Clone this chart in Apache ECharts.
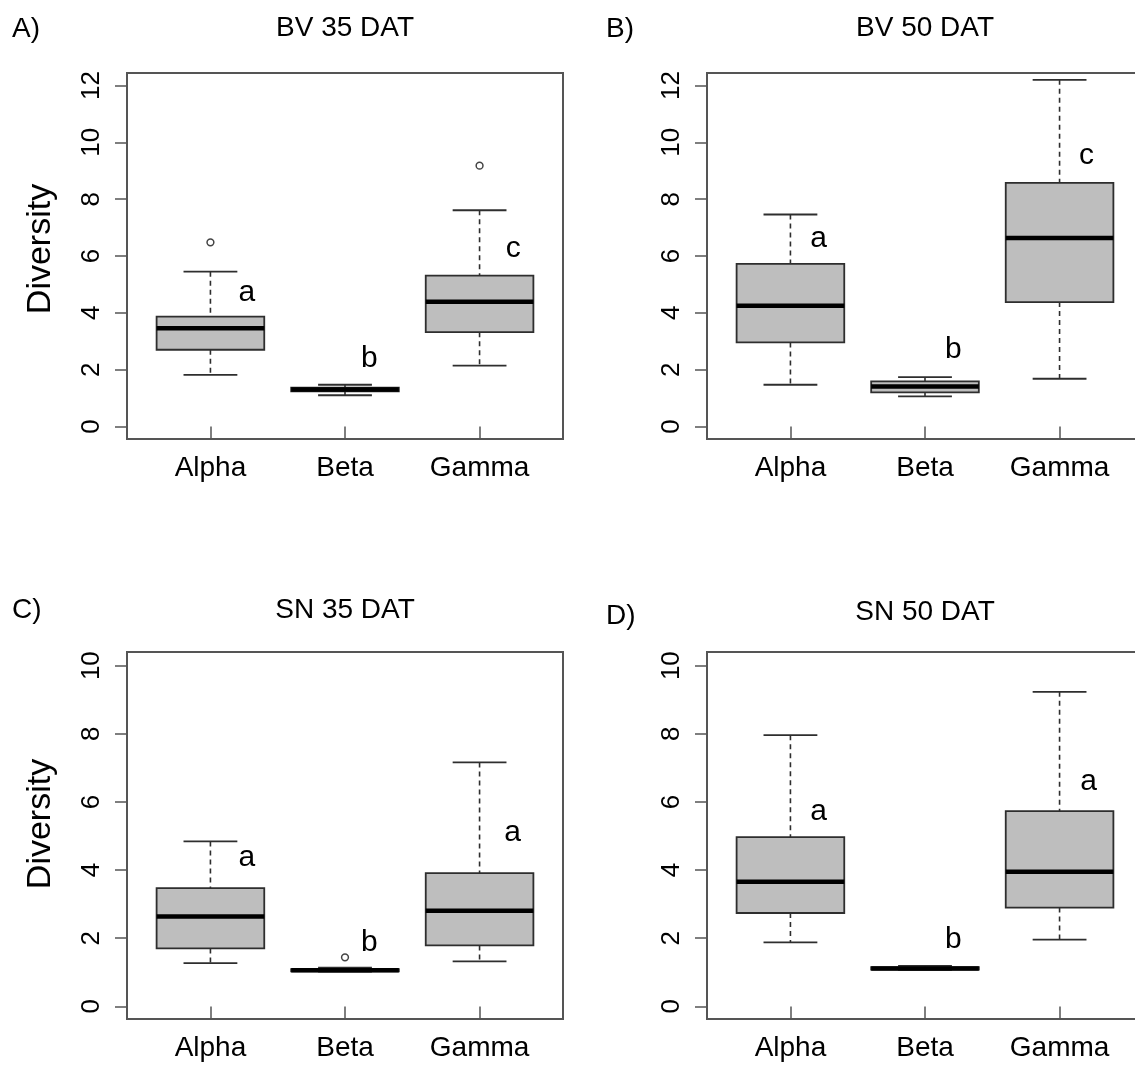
<!DOCTYPE html>
<html>
<head>
<meta charset="utf-8">
<script src="https://cdn.jsdelivr.net/npm/echarts@6/dist/echarts.min.js"></script>
<style>
  html, body { margin: 0; background: #fff; }
  #main { width: 1135px; height: 1068px; }
</style>
</head>
<body>
<div id="main"></div>
<script>
// categories on the x axis (positions 1, 2, 3)
var categories = ['Alpha', 'Beta', 'Gamma'];
var yTicksTop = [0, 2, 4, 6, 8, 10, 12];
var yTicksBottom = [0, 2, 4, 6, 8, 10];

// box stats per category: [lower whisker, Q1, median, Q3, upper whisker]
var bv35Boxes = [[1.82, 2.70, 3.46, 3.87, 5.45], [1.10, 1.24, 1.30, 1.37, 1.47], [2.14, 3.32, 4.39, 5.31, 7.61]];
var bv50Boxes = [[1.47, 2.96, 4.25, 5.72, 7.46], [1.06, 1.20, 1.41, 1.59, 1.74], [1.68, 4.38, 6.63, 8.57, 12.2]];
var sn35Boxes = [[1.27, 1.70, 2.64, 3.47, 4.84], [1.02, 1.03, 1.06, 1.09, 1.14], [1.32, 1.79, 2.81, 3.91, 7.16]];
var sn50Boxes = [[1.88, 2.74, 3.66, 4.97, 7.96], [1.07, 1.08, 1.11, 1.15, 1.19], [1.96, 2.90, 3.95, 5.73, 9.23]];

// outliers: [category position, value]
var bv35Outliers = [[1, 6.48], [3, 9.18]];
var bv50Outliers = [];
var sn35Outliers = [[2, 1.44]];
var sn50Outliers = [];

// significance letters: [x, y, letter]
var bv35Letters = [[1.27, 4.70, 'a'], [2.18, 2.40, 'b'], [3.25, 6.25, 'c']];
var bv50Letters = [[1.21, 6.60, 'a'], [2.21, 2.70, 'b'], [3.20, 9.53, 'c']];
var sn35Letters = [[1.27, 4.37, 'a'], [2.18, 1.88, 'b'], [3.245, 5.09, 'a']];
var sn50Letters = [[1.21, 5.70, 'a'], [2.21, 1.96, 'b'], [3.215, 6.60, 'a']];

var titles = ['BV 35 DAT', 'BV 50 DAT', 'SN 35 DAT', 'SN 50 DAT'];
var tags = ['A)', 'B)', 'C)', 'D)'];

var FONT = '"Liberation Sans", Arial, sans-serif';
var INK = '#2e2e2e';

var panels = [
  { boxes: bv35Boxes, out: bv35Outliers, letters: bv35Letters, ticks: yTicksTop, ymin: -0.44, ymax: 12.44,
    left: 127, top: 73, height: 366 },
  { boxes: bv50Boxes, out: bv50Outliers, letters: bv50Letters, ticks: yTicksTop, ymin: -0.44, ymax: 12.44,
    left: 707, top: 73, height: 366 },
  { boxes: sn35Boxes, out: sn35Outliers, letters: sn35Letters, ticks: yTicksBottom, ymin: -0.37, ymax: 10.4,
    left: 127, top: 652, height: 367 },
  { boxes: sn50Boxes, out: sn50Outliers, letters: sn50Letters, ticks: yTicksBottom, ymin: -0.37, ymax: 10.4,
    left: 707, top: 652, height: 367 }
];

function renderBox(params, api) {
  var x = api.value(0);
  var lo = api.coord([x, api.value(1)]);
  var q1 = api.coord([x, api.value(2)]);
  var md = api.coord([x, api.value(3)]);
  var q3 = api.coord([x, api.value(4)]);
  var hi = api.coord([x, api.value(5)]);
  var half = api.size([0.4, 0])[0];
  var staple = api.size([0.2, 0])[0];
  var cx = lo[0];
  var dashed = { stroke: INK, lineWidth: 1.6, lineDash: [5, 4] };
  var solid = { stroke: INK, lineWidth: 1.8 };
  return {
    type: 'group',
    children: [
      { type: 'line', shape: { x1: cx, y1: hi[1], x2: cx, y2: q3[1] }, style: dashed },
      { type: 'line', shape: { x1: cx, y1: q1[1], x2: cx, y2: lo[1] }, style: dashed },
      { type: 'line', shape: { x1: cx - staple, y1: hi[1], x2: cx + staple, y2: hi[1] }, style: solid },
      { type: 'line', shape: { x1: cx - staple, y1: lo[1], x2: cx + staple, y2: lo[1] }, style: solid },
      { type: 'rect', shape: { x: cx - half, y: q3[1], width: half * 2, height: q1[1] - q3[1] },
        style: { fill: '#bebebe', stroke: INK, lineWidth: 1.8 } },
      { type: 'line', shape: { x1: cx - half, y1: md[1], x2: cx + half, y2: md[1] },
        style: { stroke: '#000', lineWidth: 4.5 } }
    ]
  };
}

function renderOutlier(params, api) {
  var p = api.coord([api.value(0), api.value(1)]);
  return { type: 'circle', shape: { cx: p[0], cy: p[1], r: 3.4 },
    style: { fill: 'none', stroke: '#444', lineWidth: 1.5 } };
}

function renderLetter(params, api) {
  var p = api.coord([api.value(0), api.value(1)]);
  return { type: 'text', x: p[0], y: p[1],
    style: { text: api.value(2), textAlign: 'center', textVerticalAlign: 'middle',
      font: '30px ' + FONT, fill: '#000' } };
}

var grid = [], xAxis = [], yAxis = [], series = [], graphic = [];

panels.forEach(function (pn, i) {
  grid.push({ left: pn.left, top: pn.top, width: 436, height: pn.height,
    show: true, borderColor: '#555', borderWidth: 2, backgroundColor: 'transparent',
    containLabel: false, outerBoundsMode: 'none' });
  xAxis.push({ gridIndex: i, type: 'value', min: 0.38, max: 3.62,
    axisLine: { show: false }, splitLine: { show: false },
    axisTick: { show: true, length: 12, customValues: [1, 2, 3], lineStyle: { color: '#555', width: 1.5 } },
    axisLabel: { customValues: [1, 2, 3], margin: 15, fontSize: 28, fontFamily: FONT, color: '#000',
      formatter: function (v) { return categories[Math.round(v) - 1]; } } });
  yAxis.push({ gridIndex: i, type: 'value', min: pn.ymin, max: pn.ymax,
    axisLine: { show: false }, splitLine: { show: false },
    axisTick: { show: true, length: 12, customValues: pn.ticks, lineStyle: { color: '#555', width: 1.5 } },
    axisLabel: { customValues: pn.ticks, rotate: 90, margin: 22, fontSize: 26, fontFamily: FONT, color: '#000' } });

  var boxData = pn.boxes.map(function (b, k) { return [k + 1].concat(b); });
  series.push({ type: 'custom', xAxisIndex: i, yAxisIndex: i, renderItem: renderBox,
    encode: { x: 0, y: [1, 2, 3, 4, 5] }, data: boxData, silent: true });
  series.push({ type: 'custom', xAxisIndex: i, yAxisIndex: i, renderItem: renderOutlier,
    encode: { x: 0, y: 1 }, data: pn.out, silent: true });
  series.push({ type: 'custom', xAxisIndex: i, yAxisIndex: i, renderItem: renderLetter,
    encode: { x: 0, y: 1 }, data: pn.letters, silent: true });

  var titleY = i < 2 ? 28 : (i === 2 ? 610 : 612);
  var tagY = i < 2 ? 29 : (i === 2 ? 610 : 616);
  graphic.push({ type: 'text', x: pn.left + 218, y: titleY,
    style: { text: titles[i], textAlign: 'center', textVerticalAlign: 'middle', font: '28px ' + FONT, fill: '#000' } });
  graphic.push({ type: 'text', x: i % 2 === 0 ? 12 : 606, y: tagY,
    style: { text: tags[i], textAlign: 'left', textVerticalAlign: 'middle', font: '28px ' + FONT, fill: '#000' } });
  if (i % 2 === 0) {
    graphic.push({ type: 'text', x: 41, y: i === 0 ? 249 : 824, rotation: Math.PI / 2,
      style: { text: 'Diversity', textAlign: 'center', textVerticalAlign: 'middle', font: '34px ' + FONT, fill: '#000' } });
  }
});

var chart = echarts.init(document.getElementById('main'), null, { renderer: 'canvas' });
chart.setOption({
  animation: false,
  backgroundColor: '#fff',
  grid: grid,
  xAxis: xAxis,
  yAxis: yAxis,
  series: series,
  graphic: graphic
});
</script>
</body>
</html>
